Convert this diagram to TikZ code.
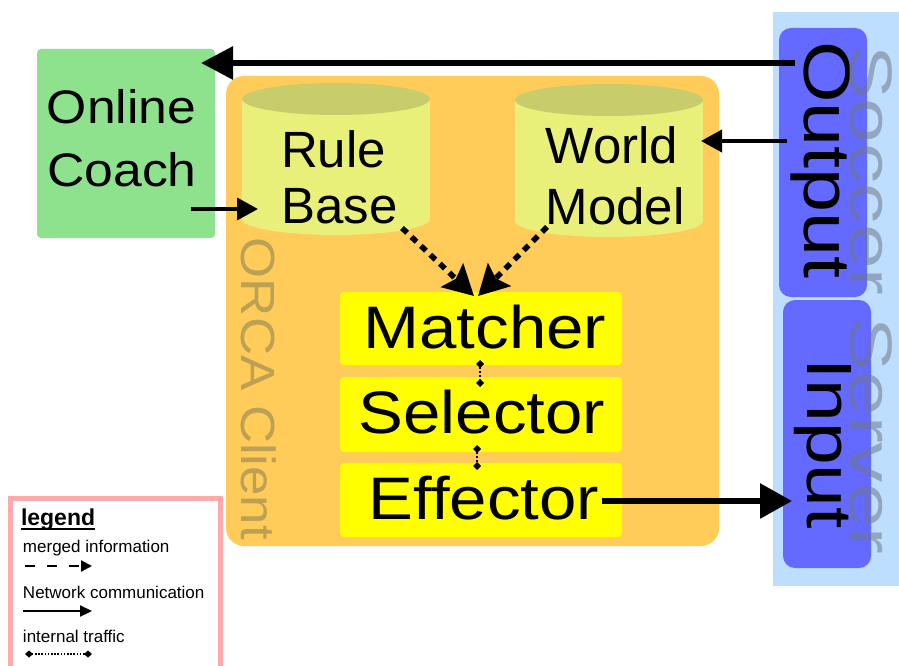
\documentclass[tikz,border=0pt]{standalone}
\usepackage{graphicx}
\usepackage{fontspec}
\setmainfont{Liberation Sans}
\usetikzlibrary{arrows.meta,calc}
\definecolor{serverbg}{RGB}{190,222,255}
\definecolor{iobox}{RGB}{100,105,255}
\definecolor{coachgreen}{RGB}{142,226,142}
\definecolor{orcaorange}{RGB}{255,204,90}
\definecolor{cylbody}{RGB}{232,240,122}
\definecolor{cyltop}{RGB}{200,204,106}
\definecolor{modyellow}{RGB}{255,255,0}
\definecolor{orcatext}{RGB}{188,160,84}
\definecolor{servertext}{RGB}{110,120,135}
\definecolor{legendpink}{RGB}{255,170,170}
\newcommand{\myfs}[1]{\fontsize{#1}{#1}\selectfont}
\begin{document}
\begin{tikzpicture}[x=1pt,y=-1pt,
  area/.style={rectangle, inner sep=0pt, outer sep=0pt},
  txt/.style={inner sep=0pt, outer sep=0pt, anchor=base, text=black},
  vtxt/.style={txt, rotate=-90},
  modbox/.style={area, fill=modyellow, rounded corners=4pt, minimum width=282pt},
  netarrow/.style={draw=black, line width=#1},
  merged/.style={draw=black, line width=5.5pt, dash pattern=on 7pt off 6pt,
    -{Stealth[length=30pt,width=32pt,inset=5pt]}},
  internal/.style={draw=black, line width=2pt, dash pattern=on 2pt off 2pt,
    {Diamond[length=8pt,width=8pt]}-{Diamond[length=8pt,width=8pt]}},
  ltxt/.style={inner sep=0pt, outer sep=0pt, anchor=base west, text=black, font=\myfs{17}}
]
\useasboundingbox (0,0) rectangle (899,666);
\fill[white] (0,0) rectangle (899,666);

% Soccer server
\node[area, fill=serverbg, minimum width=130pt, minimum height=574pt] (server) at (838,299) {};
\node[area, fill=iobox, rounded corners=12pt, minimum width=88pt, minimum height=269pt] (output) at (823,162.5) {};
\node[area, fill=iobox, rounded corners=12pt, minimum width=88pt, minimum height=268pt] (input) at (827,434) {};
\node[vtxt, font=\myfs{66}] (outputlabel) at (804,160) {\scalebox{1.2}[1]{Output}};
\node[vtxt, font=\myfs{64}] (inputlabel) at (807,443.5) {\scalebox{1.2}[1]{Input}};

% Online coach
\node[area, fill=coachgreen, rounded corners=4pt, minimum width=178pt, minimum height=189pt] (coach) at (126,143.5) {};
\node[txt, font=\myfs{47}] (coachl1) at (121.5,124) {\scalebox{1.1}[1]{Online}};
\node[txt, font=\myfs{47}] (coachl2) at (122,186) {\scalebox{1.1}[1]{Coach}};

% ORCA client
\node[area, fill=orcaorange, rounded corners=18pt, minimum width=493pt, minimum height=470pt] (orca) at (472.5,311) {};
\node[vtxt, font=\myfs{48}, text=orcatext] (orcalabel) at (241,389) {\scalebox{1.1}[1]{ORCA Client}};

% Rule base cylinder
\fill[cylbody] (242,99) rectangle (430,219);
\fill[cylbody] (336,219) ellipse [x radius=94, y radius=16];
\fill[cyltop] (336,99) ellipse [x radius=94, y radius=16];
\node[area, minimum width=188pt, minimum height=152pt] (rule) at (336,159) {};
\node[txt, font=\myfs{51}] (rulel1) at (333.5,167) {Rule};
\node[txt, font=\myfs{51}] (rulel2) at (339.5,223) {Base};

% World model cylinder
\fill[cylbody] (515,100) rectangle (703,221);
\fill[cylbody] (609,221) ellipse [x radius=94, y radius=16];
\fill[cyltop] (609,100) ellipse [x radius=94, y radius=16];
\node[area, minimum width=188pt, minimum height=153pt] (world) at (609,160.5) {};
\node[txt, font=\myfs{51}] (worldl1) at (612,163) {World};
\node[txt, font=\myfs{51}] (worldl2) at (615,224) {Model};

% Modules
\node[modbox, minimum height=73pt] (matcher) at (481,328.5) {};
\node[modbox, minimum height=75pt] (selector) at (481,414.5) {};
\node[modbox, minimum height=74pt] (effector) at (481,500) {};
\node[txt, font=\myfs{60}] (matcherl) at (485,348) {\scalebox{1.12}[1]{Matcher}};
\node[txt, font=\myfs{60}] (selectorl) at (482,433) {\scalebox{1.12}[1]{Selector}};
\node[txt, font=\myfs{60}] (effectorl) at (484,519) {\scalebox{1.12}[1]{Effector}};

% Network arrows
\draw[netarrow=6pt, -{Triangle[length=32pt,width=32pt]}]
  ($(output.north west)+(16,35)$) -- ($(coach.north east)+(-14,14)$);
\draw[netarrow=4pt, -{Triangle[length=21pt,width=22pt]}]
  ($(output.west)+(8,-21.5)$) -- ($(world.east)+(-2,-19.5)$);
\draw[netarrow=3.5pt, -{Triangle[length=21pt,width=22pt]}]
  ($(coach.east)+(-24,65.5)$) -- ($(rule.west)+(16,50)$);
\draw[netarrow=6pt, -{Triangle[length=32pt,width=34pt]}]
  ($(effector.east)+(-20,1)$) -- ($(input.west)+(9,67)$);

% Merged information
\draw[merged] ($(rule.south east)+(-28,-7)$) -- ($(matcher.north)+(-7,4)$);
\draw[merged] ($(world.south west)+(32,-10)$) -- ($(matcher.north)+(-3,4)$);

% Internal traffic
\draw[internal] ($(matcher.south)+(-1,-5)$) -- ($(selector.north)+(-1,10)$);
\draw[internal] ($(selector.south)+(-4,-7)$) -- ($(effector.north)+(-4,7)$);

% Soccer server label on top
\node[vtxt, font=\myfs{60}, text=servertext, text opacity=0.55] (serverlabel) at (850,300) {\scalebox{1.34}[1]{Soccer Server}};

% Legend
\node[area, draw=legendpink, line width=5pt, fill=white, minimum width=209.5pt, minimum height=190pt, anchor=north west] (legend) at (10.5,498) {};
\node[inner sep=0pt, outer sep=0pt, anchor=base west, font=\myfs{23}\bfseries] (legendtitle) at (21,525) {legend};
\draw[line width=2pt] ($(legendtitle.base west)+(0,4)$) -- ($(legendtitle.base east)+(0,4)$);
\node[ltxt] (lmerged) at (23,552) {merged information};
\coordinate (lm1) at (25,566);
\coordinate (lm2) at (92,566);
\draw[line width=2.2pt, dash pattern=on 10pt off 12pt, -{Triangle[length=11pt,width=11pt]}] (lm1) -- (lm2);
\node[ltxt] (lnet) at (23,598) {Network communication};
\coordinate (ln1) at (23,611);
\coordinate (ln2) at (92,611);
\draw[line width=2.2pt, -{Triangle[length=12pt,width=11pt]}] (ln1) -- (ln2);
\node[ltxt] (lint) at (23,642) {internal traffic};
\coordinate (li1) at (25,654);
\coordinate (li2) at (92,654);
\draw[line width=1.6pt, dash pattern=on 1.6pt off 1.6pt, {Diamond[length=8pt,width=7pt]}-{Diamond[length=8pt,width=7pt]}] (li1) -- (li2);
\end{tikzpicture}
\end{document}
